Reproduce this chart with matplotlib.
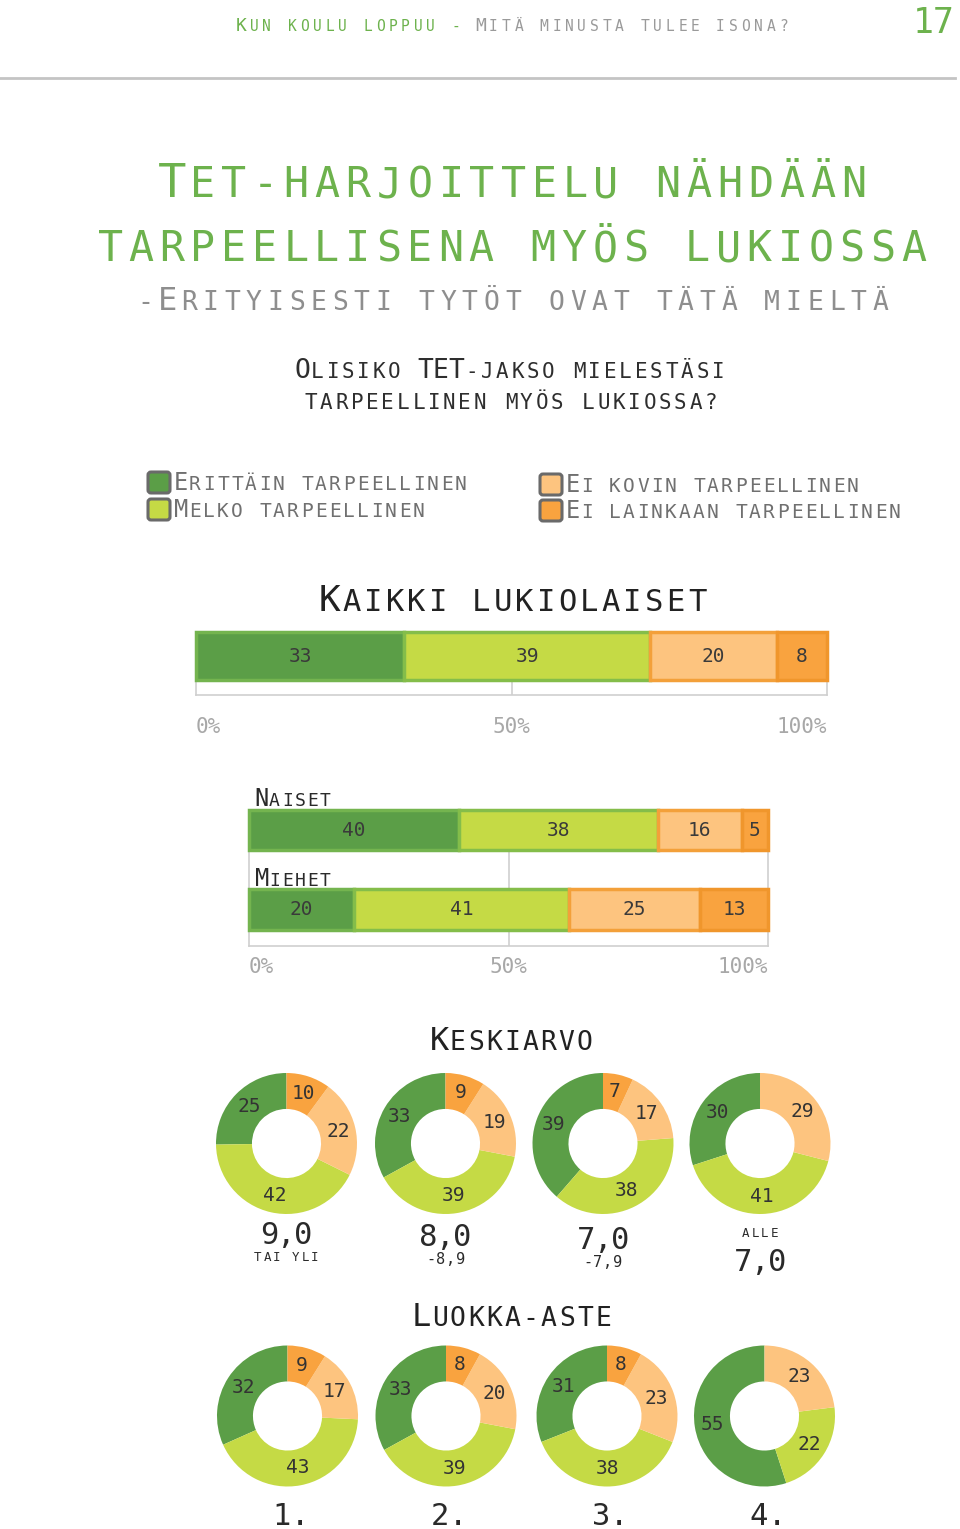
import numpy as np
import matplotlib
matplotlib.use('Agg')
import matplotlib.pyplot as plt
from matplotlib.patches import FancyBboxPatch

# --- data ---
categories = ['Erittäin tarpeellinen', 'Melko tarpeellinen',
              'Ei kovin tarpeellinen', 'Ei lainkaan tarpeellinen']
kaikki = [33, 39, 20, 8]
naiset = [40, 38, 16, 5]
miehet = [20, 41, 25, 13]

keskiarvo_groups = [('9,0', 'tai yli'), ('8,0', '-8,9'), ('7,0', '-7,9'), ('alle', '7,0')]
keskiarvo_vals = [
    [25, 42, 22, 10],
    [33, 39, 19, 9],
    [39, 38, 17, 7],
    [30, 41, 29, 0],
]
luokka_labels = ['1.', '2.', '3.', '4.']
luokka_vals = [
    [32, 43, 17, 9],
    [33, 39, 20, 8],
    [31, 38, 23, 8],
    [55, 22, 23, 0],
]
pct_ticks = [0, 50, 100]
pct_labels = ['0%', '50%', '100%']

# --- style ---
COLORS = ['#5b9e47', '#c5da45', '#fdc47f', '#f9a33f']
EDGES = ['#74b44f', '#84bd4a', '#f3a03a', '#f0962c']
GREEN = '#6db24d'
FONT = 'DejaVu Sans Mono'
W, H = 960, 1529

fig = plt.figure(figsize=(W / 100, H / 100), dpi=100)
bg = fig.add_axes([0, 0, 1, 1])
bg.set_xlim(0, W)
bg.set_ylim(H, 0)
bg.axis('off')


def px_rect(x0, y0, x1, y1):
    return [x0 / W, 1 - y1 / H, (x1 - x0) / W, (y1 - y0) / H]


def caps(x, y, s, big, small, pitch, color, center=False):
    # small caps with wide tracking, one glyph at a time
    if center:
        x = x - pitch * (len(s) - 1) / 2
    for i, ch in enumerate(s):
        if ch == ' ':
            continue
        size = big if ch.isupper() else small
        bg.text(x + i * pitch, y, ch.upper(), fontsize=size, ha='center',
                va='baseline', color=color, family=FONT)


# header
caps(241.5, 31, 'Kun koulu loppuu -', 13, 10.5, 12.6, GREEN)
caps(241.5 + 19 * 12.6, 31, 'Mitä minusta tulee isona?', 13, 10.5, 12.6, '#9a9a9a')
bg.text(934, 33, '17', fontsize=25, ha='center', va='baseline', color=GREEN, family=FONT)
bg.plot([0, 955], [78, 78], color='#c4c4c4', lw=2)

# titles
caps(513, 197, 'Tet-harjoittelu nähdään', 34, 30, 31, GREEN, center=True)
caps(512, 261, 'tarpeellisena myös lukiossa', 34, 30, 30.9, GREEN, center=True)
caps(513, 310, '-Erityisesti tytöt ovat tätä mieltä', 23, 19, 21.6, '#8e8e8e', center=True)
caps(510, 378, 'Olisiko TET-jakso mielestäsi', 19, 15, 15.4, '#2e2e2e', center=True)
caps(511, 409, 'tarpeellinen myös lukiossa?', 19, 15, 15.4, '#2e2e2e', center=True)

# legend
leg_pos = [(148, 472), (148, 499), (540, 474), (540, 500)]
for (lx, ly), name, col in zip(leg_pos, categories, COLORS):
    bg.add_patch(FancyBboxPatch((lx + 3, ly + 3), 16, 15, boxstyle='round,pad=3',
                                facecolor=col, edgecolor='#6a6a6a', lw=2.2))
    caps(lx + 33, ly + 18, name, 17, 14, 14, '#707070')


def stacked(ax, y, vals, h):
    widths = np.array(vals) / sum(vals) * 100
    left = 0
    for v, w, c, ec in zip(vals, widths, COLORS, EDGES):
        ax.barh(y, w, left=left, height=h, color=c, edgecolor=ec, linewidth=2.5,
                zorder=3, clip_on=False)
        if v:
            ax.text(left + w / 2, y, str(v), ha='center', va='center', fontsize=14,
                    color='#3a3a3a', family=FONT, zorder=4)
        left += w


def frame(ax, top, pad):
    ax.set_xlim(0, 100)
    ax.set_ylim(0, top)
    ax.patch.set_visible(False)
    ax.spines['top'].set_visible(False)
    for s in ['left', 'right', 'bottom']:
        ax.spines[s].set_color('#cfcfcf')
        ax.spines[s].set_linewidth(1.2)
    ax.axvline(50, color='#cfcfcf', lw=1.2, zorder=1)
    ax.set_yticks([])
    ax.set_xticks(pct_ticks)
    ax.set_xticklabels(pct_labels, fontsize=15, color='#a8a8a8', family=FONT)
    for lbl, ha in zip(ax.get_xticklabels(), ['left', 'center', 'right']):
        lbl.set_ha(ha)
    ax.tick_params(length=0, pad=pad)


# all students
caps(513.5, 611, 'Kaikki lukiolaiset', 26, 22, 21.6, '#222222', center=True)
ax1 = fig.add_axes(px_rect(196, 632, 827, 695))
frame(ax1, 63, 16)
stacked(ax1, 39, kaikki, 48)

# by gender
ax2 = fig.add_axes(px_rect(249, 810, 768, 946))
frame(ax2, 136, 8)
stacked(ax2, 116, naiset, 40)
stacked(ax2, 36.5, miehet, 41)
caps(262, 806, 'Naiset', 17, 13, 12.6, '#2a2a2a')
caps(262, 886, 'Miehet', 17, 13, 12.6, '#2a2a2a')


def donut(cx, cy, vals, r=70.5):
    ax = fig.add_axes(px_rect(cx - r, cy - r, cx + r, cy + r))
    _, texts = ax.pie(vals, colors=COLORS, startangle=90, radius=1,
                      labels=[str(v) if v else '' for v in vals], labeldistance=0.75,
                      wedgeprops=dict(width=0.51, linewidth=0),
                      textprops=dict(fontsize=14, color='#333333', family=FONT))
    for t in texts:
        t.set_ha('center')
        t.set_va('center')
    ax.set_xlim(-1, 1)
    ax.set_ylim(-1, 1)


# grade average
caps(512, 1050, 'Keskiarvo', 23, 19, 18.1, '#222222', center=True)
row1_x = [286.5, 445.5, 603, 760]
for cx, vals in zip(row1_x, keskiarvo_vals):
    donut(cx, 1143.5, vals)
sub_y = [(1244, 1261), (1246, 1264), (1249, 1267), (1237, 1271)]
for cx, (a, b), (ya, yb) in zip(row1_x, keskiarvo_groups, sub_y):
    if a[0].isdigit():
        caps(cx, ya, a, 22, 22, 17, '#2a2a2a', center=True)
        small = 9 if b[0].isalpha() else 11
        caps(cx, yb, b, small, small, 9.5 if small == 9 else 10, '#2a2a2a', center=True)
    else:
        caps(cx, ya, a, 9, 9, 9.5, '#2a2a2a', center=True)
        caps(cx, yb, b, 22, 22, 17, '#2a2a2a', center=True)

# grade level
caps(512.5, 1326, 'Luokka-aste', 23, 19, 18.2, '#222222', center=True)
row2_x = [287.5, 446, 607, 764.5]
for cx, vals in zip(row2_x, luokka_vals):
    donut(cx, 1416, vals)
for cx, lab in zip(row2_x, luokka_labels):
    caps(cx + 3, 1525, lab, 22, 22, 18, '#2a2a2a', center=True)

fig.savefig('out.png', dpi=100)
